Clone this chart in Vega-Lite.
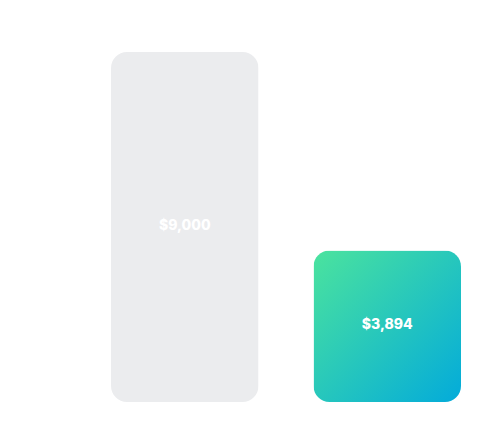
{
  "$schema": "https://vega.github.io/schema/vega-lite/v6.json",
  "width": 350,
  "height": 350,
  "autosize": {"type": "none"},
  "padding": {"top": 52, "bottom": 39, "left": 111, "right": 39},
  "background": "#ffffff",
  "config": {"view": {"stroke": null}},
  "data": {"values": [
    {"category": "Budget", "value": 9000},
    {"category": "Spent", "value": 3894}
  ]},
  "encoding": {
    "x": {"field": "category", "type": "nominal", "axis": null,
          "scale": {"paddingInner": 0.2716, "paddingOuter": 0}},
    "y": {"field": "value", "type": "quantitative", "axis": null,
          "scale": {"domain": [0, 9000], "nice": false, "zero": true}}
  },
  "layer": [
    {
      "transform": [{"filter": "datum.category === 'Budget'"}],
      "mark": {"type": "bar", "cornerRadius": 16, "color": "#EBECEE"}
    },
    {
      "transform": [{"filter": "datum.category === 'Spent'"}],
      "mark": {"type": "bar", "cornerRadius": 16, "color": {
        "gradient": "linear", "x1": 0, "y1": 0, "x2": 1, "y2": 1,
        "stops": [
          {"offset": 0, "color": "#4BE39E"},
          {"offset": 1, "color": "#03ABDA"}
        ]
      }}
    },
    {
      "transform": [{"calculate": "datum.value / 2", "as": "mid"}],
      "mark": {"type": "text", "color": "#ffffff", "font": "Inter", "fontSize": 14, "fontWeight": 800, "baseline": "middle", "align": "center", "dy": -1},
      "encoding": {
        "y": {"field": "mid", "type": "quantitative"},
        "text": {"field": "value", "type": "quantitative", "format": "$,"}
      }
    }
  ]
}
